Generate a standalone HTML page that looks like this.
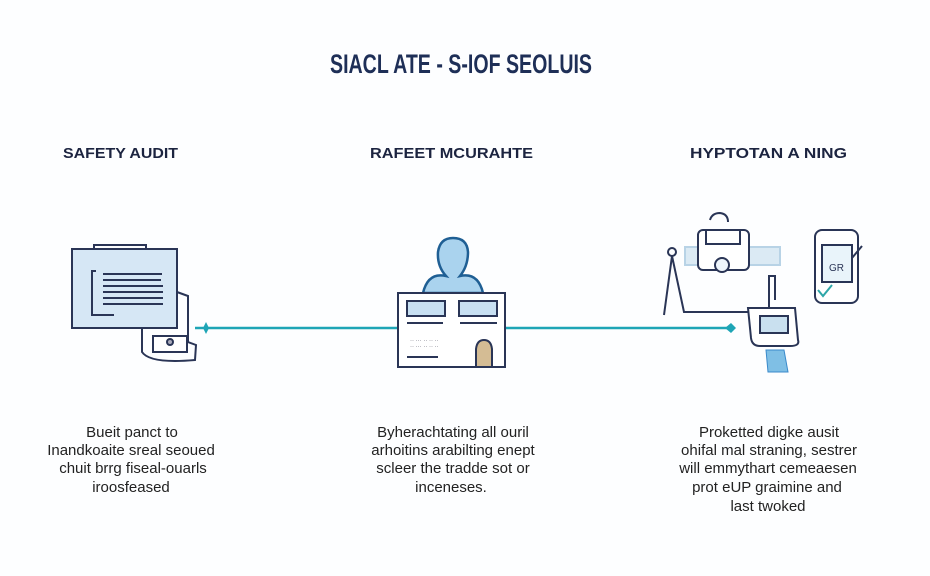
<!DOCTYPE html>
<html><head><meta charset="utf-8"><style>
body{margin:0;background:#fff;}
svg{display:block}
text{font-family:"Liberation Sans",sans-serif;}
</style></head><body>
<svg width="930" height="576" viewBox="0 0 930 576" xmlns="http://www.w3.org/2000/svg">
<rect width="930" height="576" fill="#fdfeff"/>
<text x="461" y="73" text-anchor="middle" font-size="27" font-weight="bold" fill="#1e2f57" textLength="262" lengthAdjust="spacingAndGlyphs">SIACL ATE - S-IOF SEOLUIS</text>
<g font-size="15" font-weight="bold" fill="#1c2440">
<text x="63" y="158" textLength="115" lengthAdjust="spacingAndGlyphs">SAFETY AUDIT</text>
<text x="370" y="158" textLength="163" lengthAdjust="spacingAndGlyphs">RAFEET MCURAHTE</text>
<text x="690" y="158" textLength="157" lengthAdjust="spacingAndGlyphs">HYPTOTAN A NING</text>
</g>
<!-- connector -->
<line x1="195" y1="328" x2="728" y2="328" stroke="#1ea5b6" stroke-width="2.5"/>
<path d="M206 322 L209 328 L206 334 L203 328Z" fill="#1ea5b6"/>
<path d="M725 328 L731 323 L736 328 L731 333Z" fill="#1ea5b6"/>
<!-- left icon -->
<g stroke="#2a3556" stroke-width="2" fill="none">
<path d="M142 328 V352 Q150 364 195 360 L196 345 L188 342 V296 L177 292"/>
<rect x="153" y="336" width="34" height="16" fill="#fff"/>
<circle cx="170" cy="342" r="3" fill="#aab"/>
<path d="M94 248 V245 H146 V248"/>
<rect x="72" y="249" width="105" height="79" fill="#d6e7f5"/>
<path d="M96 271 H92 V315 H114"/>
</g>
<g stroke="#2a3556" stroke-width="2">
<line x1="103" y1="274" x2="162" y2="274"/><line x1="103" y1="280" x2="161" y2="280"/>
<line x1="103" y1="286" x2="163" y2="286"/><line x1="103" y1="292" x2="163" y2="292"/>
<line x1="103" y1="298" x2="163" y2="298"/><line x1="103" y1="304" x2="163" y2="304"/>
</g>
<!-- middle icon -->
<g stroke="#1f5f94" stroke-width="2.5" fill="#aad3ee">
<path d="M423 293 Q428 272 446 276 Q437 266 438 252 Q440 238 453 238 Q467 238 468 252 Q468 266 460 276 Q478 272 483 293Z"/>
</g>
<g stroke="#2a3556" stroke-width="2">
<rect x="398" y="293" width="107" height="74" fill="#fff"/>
<rect x="407" y="301" width="38" height="15" fill="#c8e0f2"/>
<rect x="459" y="301" width="38" height="15" fill="#c8e0f2"/>
<line x1="407" y1="323" x2="443" y2="323"/><line x1="460" y1="323" x2="497" y2="323"/>
<line x1="407" y1="357" x2="438" y2="357"/>
<path d="M476 367 V349 Q477 340 484 340 Q491 340 492 349 V367Z" fill="#d4bc94"/>
</g>
<g fill="#556" font-size="6"><text x="410" y="342">·· ··· ·· ·· ··</text><text x="410" y="348">·· ··· ·· ·· ··</text></g>
<!-- right icon -->
<g stroke="#2a3556" stroke-width="2" fill="none">
<rect x="685" y="247" width="95" height="18" fill="#dbeaf4" stroke="#b8d3e6"/>
<path d="M710 220 Q712 213 720 213 Q728 214 728 222"/>
<rect x="698" y="230" width="51" height="40" rx="5" fill="#fff"/>
<rect x="706" y="230" width="34" height="14" fill="#fff"/>
<circle cx="722" cy="265" r="7" fill="#eef5fb"/>
<circle cx="672" cy="252" r="4"/>
<path d="M664 315 L672 256 L684 312 H769 V276 H775 V300"/>
<path d="M748 308 H795 L798 340 Q800 346 790 346 H760 Q752 346 751 338Z" fill="#fff"/>
<rect x="760" y="316" width="28" height="17" fill="#c9e0ef"/>
<rect x="815" y="230" width="43" height="73" rx="7" fill="#fff"/>
<rect x="822" y="245" width="30" height="37" fill="#e9f4fa"/>
<path d="M818 290 L823 296 L832 285" stroke="#2ea6a8"/>
<path d="M852 258 L862 246"/>
</g>
<path d="M766 350 H784 L788 372 H768Z" fill="#7fbfe5" stroke="#3a8acb"/>
<text x="829" y="271" font-size="10" fill="#2a3556">GR</text>
<!-- bottom text -->
<g font-size="15" fill="#222" text-anchor="middle">
<text x="132" y="437">Bueit panct to</text>
<text x="131" y="455">Inandkoaite sreal seoued</text>
<text x="133" y="473">chuit brrg fiseal-ouarls</text>
<text x="131" y="492">iroosfeased</text>
<text x="453" y="437">Byherachtating all ouril</text>
<text x="453" y="455">arhoitins arabilting enept</text>
<text x="453" y="473">scleer the tradde sot or</text>
<text x="451" y="492">inceneses.</text>
<text x="769" y="437">Proketted digke ausit</text>
<text x="769" y="455">ohifal mal straning, sestrer</text>
<text x="768" y="473">will emmythart cemeaesen</text>
<text x="767" y="492">prot eUP graimine and</text>
<text x="768" y="511">last twoked</text>
</g>
</svg>
</body></html>
